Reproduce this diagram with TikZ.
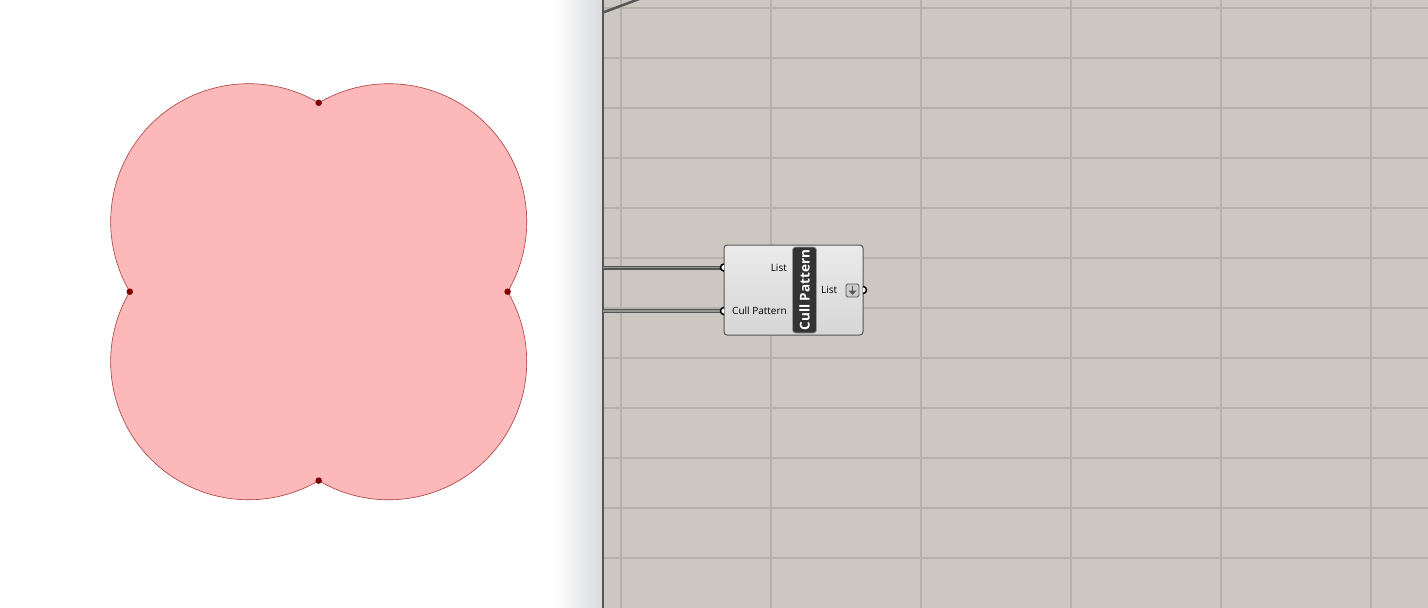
\documentclass[tikz,border=0pt]{standalone}
\usepackage{fontspec}
\setmainfont{Open Sans}
\usetikzlibrary{calc}
\definecolor{canvas}{RGB}{204,199,193}
\definecolor{gridc}{RGB}{182,177,171}
\definecolor{pinkfill}{RGB}{253,185,186}
\definecolor{pinkline}{RGB}{170,60,60}
\definecolor{dotc}{RGB}{128,0,0}
\definecolor{wiredark}{RGB}{85,85,85}
\definecolor{wirelight}{RGB}{150,146,140}
\definecolor{shadowc}{RGB}{216,218,222}
\tikzset{
  gridline/.style={draw=gridc, line width=1.4pt},
  wireouter/.style={draw=wiredark, line width=4pt},
  wireinner/.style={draw=wirelight, line width=1.3pt},
  grip/.style={draw=black, line width=1.5pt, fill=white},
  lbl/.style={font=\fontsize{10}{12}\selectfont, text=black, inner sep=0pt},
  junction/.style={circle, fill=dotc, inner sep=0pt, minimum size=6.5pt},
}
\begin{document}
\begin{tikzpicture}[x=1pt,y=-1pt]
\useasboundingbox (0,0) rectangle (1428,608);
\clip (0,0) rectangle (1428,608);
% left panel
\fill[white] (0,0) rectangle (602,608);
\shade[left color=white, right color=shadowc] (555,0) rectangle (602,608);
% canvas
\fill[canvas] (602,0) rectangle (1428,608);
\foreach \x in {621,771,921,1071,1221,1371} \draw[gridline] (\x,0) -- (\x,608);
\foreach \y in {8,58,108,158,208,258,308,358,408,458,508,558} \draw[gridline] (602,\y) -- (1428,\y);
\draw[draw=wiredark, line width=2pt] (602.5,0) -- (602.5,608);
% top-left wire
\coordinate (tw0) at (603,12.5);
\coordinate (tw1) at (690,-20);
\draw[draw=wiredark, line width=2.5pt] (tw0) -- (tw1);
% union of four circles
\filldraw[fill=pinkfill, draw=pinkline, line width=0.6pt]
  (318.7,102.8) arc[start angle=-59.5, end angle=-210.5, radius=138]
  arc[start angle=210.5, end angle=59.5, radius=138]
  arc[start angle=120.5, end angle=-30.5, radius=138]
  arc[start angle=30.5, end angle=-120.5, radius=138] -- cycle;
\node[junction] (jt) at (318.7,102.8) {};
\node[junction] (jb) at (318.7,480.6) {};
\node[junction] (jl) at (129.8,291.7) {};
\node[junction] (jr) at (507.6,291.7) {};
% component
\coordinate (w1s) at (603,267.5);
\coordinate (w2s) at (603,311);
\node[draw=wiredark, line width=1pt, rounded corners=3pt, top color=white!92!black, bottom color=white!84!black,
      minimum width=139pt, minimum height=90pt, inner sep=0pt] (comp) at (793.5,290) {};
\coordinate (in1) at (722,267.5);
\coordinate (in2) at (722,311);
\coordinate (out1) at (864.5,290);
\draw[wireouter] (w1s) -- (in1);
\draw[wireinner] (w1s) -- (in1);
\draw[wireouter] (w2s) -- (in2);
\draw[wireinner] (w2s) -- (in2);
\draw[grip] ($(in1)+(2,-3.5)$) arc[start angle=-90, end angle=-270, radius=3.5];
\draw[grip] ($(in2)+(2,-3.5)$) arc[start angle=-90, end angle=-270, radius=3.5];
\draw[grip] ($(out1)+(-1.5,-3.5)$) arc[start angle=-90, end angle=90, radius=3.5];
\node[draw=gray!80, line width=0.8pt, fill=black!80, rounded corners=3pt, minimum width=24pt, minimum height=86pt, inner sep=0pt] (caps) at (804.5,290) {};
\node[rotate=90, text=white, font=\bfseries\fontsize{13.5}{15}\selectfont, inner sep=0pt] (capt) at (caps.center) {Cull Pattern};
\node[lbl, anchor=east] (lin1) at (787,268) {List};
\node[lbl, anchor=east] (lin2) at (787,311) {Cull Pattern};
\node[lbl, anchor=west] (lout) at (821,290) {List};
\node[draw=wiredark, line width=0.8pt, fill=white!80!black, rounded corners=1.5pt, minimum size=13pt, inner sep=0pt] (icon) at (852.5,290.5) {};
\draw[draw=wiredark, line width=1.6pt] ($(icon.center)+(0,-4.5)$) -- ($(icon.center)+(0,1)$);
\fill[wiredark] ($(icon.center)+(-4,0)$) -- ($(icon.center)+(4,0)$) -- ($(icon.center)+(0,4.5)$) -- cycle;
\end{tikzpicture}
\end{document}
